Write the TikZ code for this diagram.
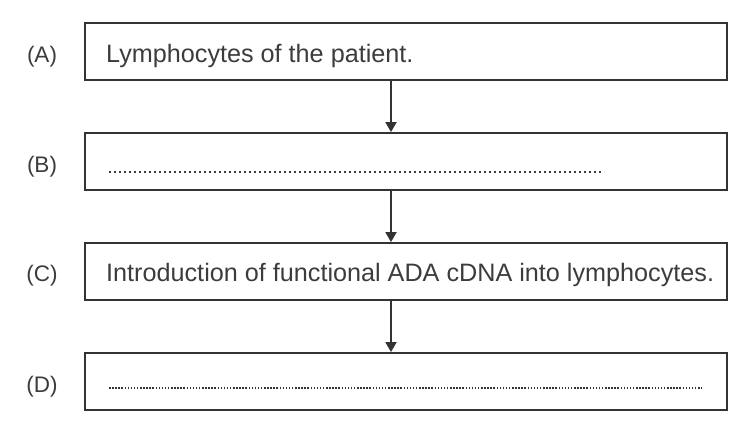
\documentclass[tikz,border=0pt]{standalone}
\usepackage{fontspec}
\setmainfont{Liberation Sans}
\usetikzlibrary{arrows.meta}
\definecolor{ink}{HTML}{333333}
\definecolor{txt}{HTML}{3C3C3C}
\begin{document}
\begin{tikzpicture}[x=1pt,y=-1pt,
  stepbox/.style={draw=ink,line width=1.8pt,minimum width=642pt,minimum height=57pt,inner sep=0pt},
  lbl/.style={anchor=base,text=txt,font=\fontsize{22.5}{26}\selectfont,inner sep=0pt},
  body/.style={anchor=base west,text=txt,font=\fontsize{25.2}{29}\selectfont,inner sep=0pt},
  flow/.style={draw=ink,line width=1.8pt,-{Triangle[length=10pt,width=11pt]}}]
\useasboundingbox (0,0) rectangle (748,422);
\node[stepbox] (A) at (406,51.5) {};
\node[stepbox] (B) at (406,161.5) {};
\node[stepbox] (C) at (406,271.5) {};
\node[stepbox] (D) at (406,381.5) {};
\node[lbl] (la) at (42,63) {(A)};
\node[lbl] (lb) at (42,173) {(B)};
\node[lbl] (lc) at (42,282) {(C)};
\node[lbl] (ld) at (42,393) {(D)};
\node[body] (ta) at (106,63) {Lymphocytes of the patient.};
\node[body] (tc) at (106,282) {Introduction of functional ADA cDNA into lymphocytes.};
\draw[txt,line width=1.8pt,dash pattern=on 1.8pt off 3.2pt] (109,172) -- (604,172);
\draw[ink,line width=2pt,dash pattern=on 1.5pt off 1.6pt] (109,388) -- (702,388);
\draw[flow] ([xshift=-15pt]A.south) -- ([xshift=-15pt]B.north);
\draw[flow] ([xshift=-15pt]B.south) -- ([xshift=-15pt]C.north);
\draw[flow] ([xshift=-15pt]C.south) -- ([xshift=-15pt]D.north);
\end{tikzpicture}
\end{document}
